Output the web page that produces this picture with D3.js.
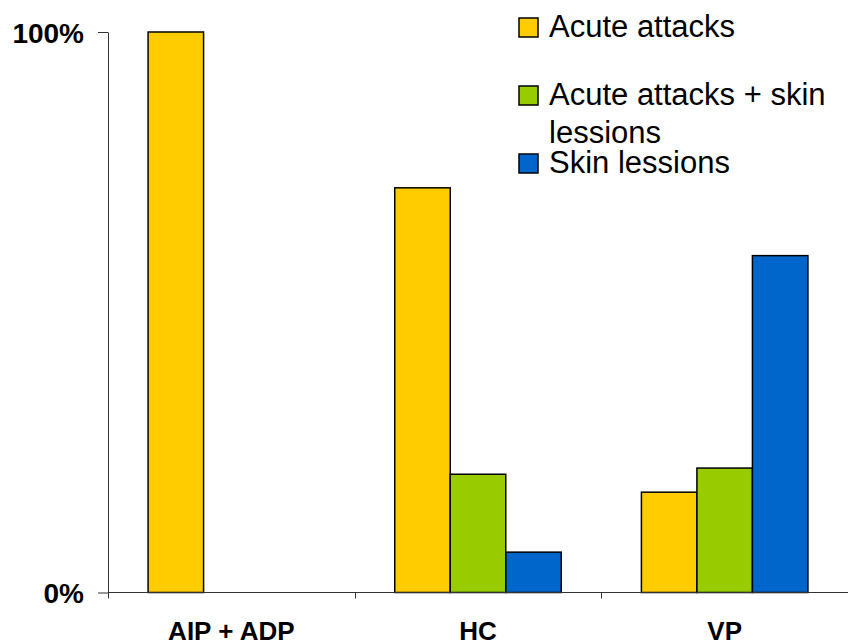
<!DOCTYPE html>
<html>
<head>
<meta charset="utf-8">
<script src="https://cdn.jsdelivr.net/npm/d3@7"></script>
<style>
  body { margin: 0; background: #fff; }
  text { font-family: "Liberation Sans", Arial, sans-serif; }
</style>
</head>
<body>
<svg width="848" height="641"></svg>
<script>
const categories = ['AIP + ADP', 'HC', 'VP'];
const seriesNames = ['Acute attacks', 'Acute attacks + skin lessions', 'Skin lessions'];
const legendLines = [['Acute attacks'], ['Acute attacks + skin', 'lessions'], ['Skin lessions']];
const acuteAttacks = [100, 72.2, 17.9];
const acuteAndSkin = [0, 21.1, 22.2];
const skinLessions = [0, 7.2, 60.1];
const yTicks = [0, 100];
const colors = ['#FFCC00', '#99CC00', '#0066CC'];

const series = [acuteAttacks, acuteAndSkin, skinLessions];
const data = categories.map((c, i) => ({
    category: c,
    values: series.map((s, j) => ({ key: seriesNames[j], idx: j, value: s[i] }))
}));

const svg = d3.select('svg');
const plotLeft = 108, plotRight = 848, plotTop = 32, plotBottom = 592.5;

const x0 = d3.scaleBand()
    .domain(categories)
    .range([plotLeft, plotRight])
    .paddingInner(0.325)
    .paddingOuter(0.1625);
const x1 = d3.scaleBand()
    .domain(d3.range(seriesNames.length))
    .range([0, x0.bandwidth()]);
const y = d3.scaleLinear().domain([0, 100]).range([plotBottom, plotTop]);

// bars
const groups = svg.append('g')
    .selectAll('g')
    .data(data)
    .enter()
    .append('g')
    .attr('transform', d => 'translate(' + x0(d.category) + ',0)');

groups.selectAll('rect')
    .data(d => d.values.filter(v => v.value > 0))
    .enter()
    .append('rect')
    .attr('x', d => x1(d.idx))
    .attr('y', d => y(d.value))
    .attr('width', x1.bandwidth())
    .attr('height', d => plotBottom - y(d.value))
    .attr('fill', d => colors[d.idx])
    .attr('stroke', '#000')
    .attr('stroke-width', 1.5);

// y axis
const yAxis = svg.append('g')
    .attr('transform', 'translate(' + plotLeft + ',0)')
    .call(d3.axisLeft(y).tickValues(yTicks).tickSize(10).tickSizeOuter(0).tickFormat(d => d + '%'));
yAxis.select('.domain').attr('stroke', '#333');
yAxis.selectAll('.tick line').attr('stroke', '#333');
yAxis.selectAll('.tick text')
    .attr('x', -24)
    .attr('dy', '0.36em')
    .attr('font-size', 28)
    .attr('font-weight', 'bold')
    .attr('fill', '#000')
    .style('font-family', '"Liberation Sans", Arial, sans-serif');

// x axis: baseline and boundary ticks
const step = x0.step();
const boundaries = categories.map(c => x0(c) - x0.paddingOuter() * step).concat([plotRight]);
svg.append('line')
    .attr('x1', plotLeft).attr('x2', plotRight)
    .attr('y1', plotBottom).attr('y2', plotBottom)
    .attr('stroke', '#333');
svg.append('g')
    .selectAll('line')
    .data(boundaries)
    .enter()
    .append('line')
    .attr('x1', d => Math.round(d) + 0.5).attr('x2', d => Math.round(d) + 0.5)
    .attr('y1', plotBottom).attr('y2', plotBottom + 6)
    .attr('stroke', '#333');

svg.append('g')
    .selectAll('text')
    .data(categories)
    .enter()
    .append('text')
    .attr('x', d => x0(d) + x0.bandwidth() / 2)
    .attr('y', 640)
    .attr('text-anchor', 'middle')
    .attr('font-size', 26)
    .attr('font-weight', 'bold')
    .text(d => d);

// legend
const legendTops = [18, 86, 154];
const legend = svg.append('g')
    .selectAll('g')
    .data(legendLines)
    .enter()
    .append('g')
    .attr('transform', (d, i) => 'translate(519,' + legendTops[i] + ')');

legend.append('rect')
    .attr('width', 19)
    .attr('height', 19)
    .attr('fill', (d, i) => colors[i])
    .attr('stroke', '#000')
    .attr('stroke-width', 1.5);

legend.each(function (lines) {
    d3.select(this).selectAll('text')
        .data(lines)
        .enter()
        .append('text')
        .attr('x', 30)
        .attr('y', (l, k) => 19 + k * 38)
        .attr('font-size', 31)
        .attr('fill', '#000')
        .text(l => l);
});
</script>
</body>
</html>
